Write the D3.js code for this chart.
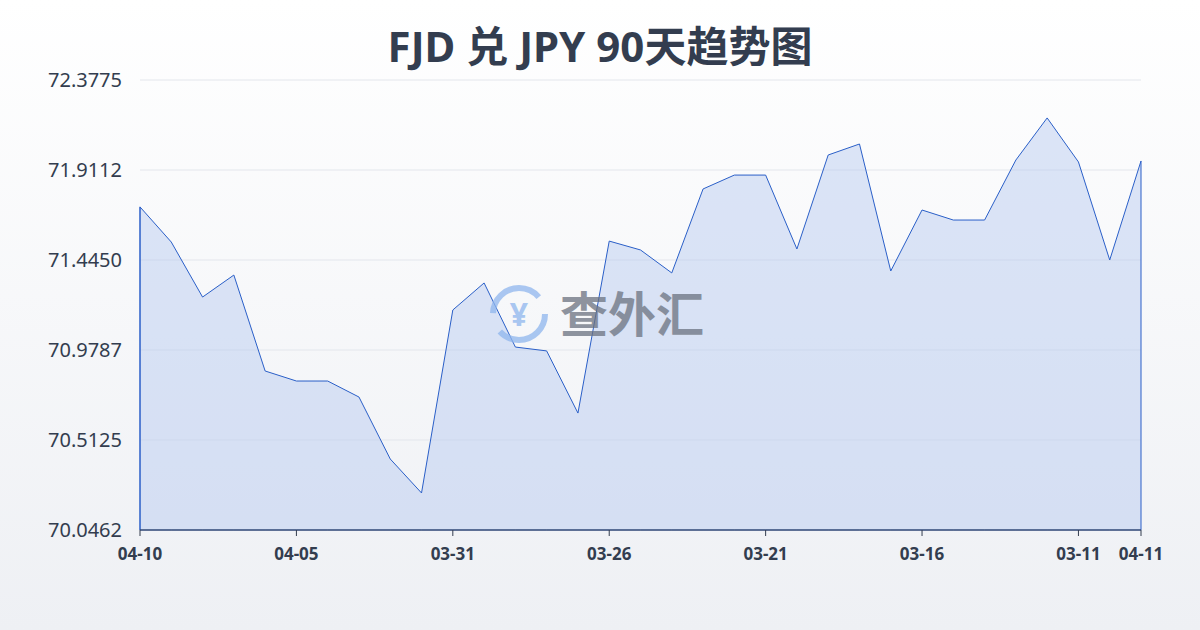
<!doctype html>
<html lang="zh">
<head>
<meta charset="UTF-8">
<style>
	body { margin: 0; background: #f3f4f7; font-family: "Noto Sans", "Noto Sans CJK SC", sans-serif; }
	svg { display: block; }
</style>
<script src="https://cdn.jsdelivr.net/npm/d3@7/dist/d3.min.js"></script>
</head>
<body>
<svg id="chart" width="1200" height="630"></svg>
<script>
// dates, newest first as in the picture; last point is 04-11
var dates = ["04-10","04-09","04-08","04-07","04-06","04-05","04-04","04-03","04-02","04-01",
	"03-31","03-30","03-29","03-28","03-27","03-26","03-25","03-24","03-23","03-22",
	"03-21","03-20","03-19","03-18","03-17","03-16","03-15","03-14","03-13","03-12",
	"03-11","03-10","04-11"];
var rates = [71.720,71.538,71.253,71.367,70.870,70.818,70.818,70.735,70.414,70.238,
	71.186,71.326,70.994,70.974,70.652,71.543,71.497,71.378,71.813,71.885,
	71.885,71.502,71.989,72.046,71.388,71.704,71.652,71.652,71.963,72.181,
	71.953,71.445,71.958];
var yTicks = [70.0462,70.5125,70.9787,71.4450,71.9112,72.3775];
var xLabelIdx = [0,5,10,15,20,25,30,32];

var svg = d3.select("#chart");
var bg = svg.append("defs").append("linearGradient").attr("id","bg").attr("x1",0).attr("y1",0).attr("x2",0).attr("y2",1);
bg.append("stop").attr("offset","0%").attr("stop-color","#ffffff");
bg.append("stop").attr("offset","100%").attr("stop-color","#eef0f4");
svg.append("rect").attr("width",1200).attr("height",630).attr("fill","url(#bg)");

svg.append("text").attr("x",600).attr("y",62).attr("text-anchor","middle")
	.attr("font-size",42).attr("font-weight","bold").attr("fill","#333d4f")
	.text("FJD 兑 JPY 90天趋势图");

var x = d3.scaleLinear().domain([0, rates.length-1]).range([140,1141]);
var y = d3.scaleLinear().domain([70.0462,72.3775]).range([530,80]);

svg.selectAll(".grid").data(yTicks).enter().append("line")
	.attr("x1",140).attr("x2",1141).attr("y1",d=>y(d)).attr("y2",d=>y(d))
	.attr("stroke","#e3e6ec").attr("stroke-width",1);

svg.selectAll(".yl").data(yTicks).enter().append("text")
	.attr("x",122).attr("y",d=>y(d)+7).attr("text-anchor","end")
	.attr("font-size",20).attr("fill","#333d4f").text(d=>d.toFixed(4));

var area = d3.area().x((d,i)=>x(i)).y0(530).y1(d=>y(d));
svg.append("path").datum(rates).attr("d",area).attr("fill","rgba(180,200,240,0.45)")
	.attr("stroke","#2a5fc8").attr("stroke-width",1);
svg.append("line").attr("x1",140).attr("x2",140).attr("y1",y(rates[0])).attr("y2",530).attr("stroke","#2a5fc8");

var xAxis = svg.append("g").attr("transform","translate(0,530)");
xAxis.append("line").attr("x1",140).attr("x2",1141).attr("stroke","#333d4f");
xAxis.selectAll("line.t").data(xLabelIdx).enter().append("line")
	.attr("x1",d=>x(d)).attr("x2",d=>x(d)).attr("y1",0).attr("y2",6).attr("stroke","#333d4f");
xAxis.selectAll("text").data(xLabelIdx).enter().append("text")
	.attr("x",d=>x(d)).attr("y",30).attr("text-anchor","middle")
	.attr("font-size",17).attr("font-weight","bold").attr("fill","#333d4f").text(d=>dates[d]);

// watermark
var wm = svg.append("g").attr("opacity",0.75);
wm.append("circle").attr("cx",519).attr("cy",314).attr("r",26).attr("fill","none")
	.attr("stroke","#8fb6ee").attr("stroke-width",6).attr("stroke-dasharray","62 20");
wm.append("text").attr("x",519).attr("y",326).attr("text-anchor","middle")
	.attr("font-size",32).attr("font-weight","bold").attr("fill","#8fb6ee").text("¥");
wm.append("text").attr("x",560).attr("y",332).attr("font-size",48).attr("font-weight","bold")
	.attr("font-family","Noto Sans CJK SC").attr("fill","#6b7280").text("查外汇");
</script>
</body>
</html>
